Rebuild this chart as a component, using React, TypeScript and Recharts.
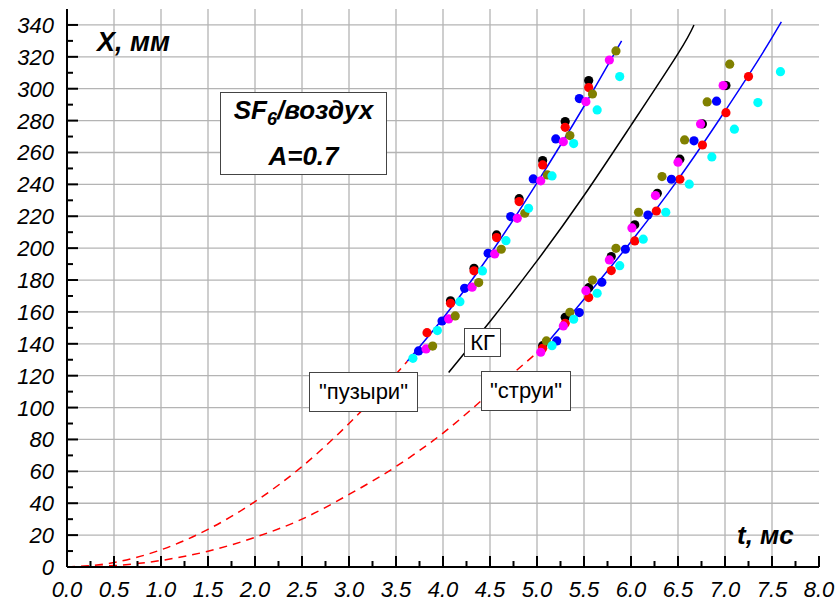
import React from "react";
import { ComposedChart, Scatter, Line, XAxis, YAxis, CartesianGrid } from "recharts";

// axis ticks (minor + major)
const tTicks = [0, 0.25, 0.5, 0.75, 1, 1.25, 1.5, 1.75, 2, 2.25, 2.5, 2.75, 3, 3.25, 3.5, 3.75, 4, 4.25, 4.5, 4.75, 5, 5.25, 5.5, 5.75, 6, 6.25, 6.5, 6.75, 7, 7.25, 7.5, 7.75, 8];
const xTicks = [0, 10, 20, 30, 40, 50, 60, 70, 80, 90, 100, 110, 120, 130, 140, 150, 160, 170, 180, 190, 200, 210, 220, 230, 240, 250, 260, 270, 280, 290, 300, 310, 320, 330, 340];
const tGrid = [0.5, 1, 1.5, 2, 2.5, 3, 3.5, 4, 4.5, 5, 5.5, 6, 6.5, 7, 7.5];
const xGrid = [20, 40, 60, 80, 100, 120, 140, 160, 180, 200, 220, 240, 260, 280, 300, 320, 340];

// measured points: [t, X]
const blackPts = [
  [4.08, 167], [4.33, 187.4], [4.57, 208.3], [4.81, 231], [5.06, 254.9], [5.3, 279.4], [5.55, 305.1],
  [5.06, 138.8], [5.3, 156.6], [5.55, 175.2], [5.79, 194.7], [6.04, 214.6], [6.28, 234.4], [6.52, 255.8], [6.76, 277.9], [7.01, 302],
];
const redPts = [
  [3.83, 147], [4.08, 165.4], [4.33, 185.8], [4.57, 206.6], [4.81, 229.2], [5.06, 252.2], [5.3, 275.8], [5.55, 300.7],
  [5.06, 137.2], [5.3, 152.9], [5.55, 169], [5.79, 185.9], [6.04, 204.5], [6.27, 223.3], [6.52, 243.2], [6.76, 264.7], [7.01, 285], [7.25, 307.6],
];
const bluePts = [
  [3.74, 135.5], [3.99, 154.3], [4.23, 174.8], [4.48, 196.8], [4.72, 219.8], [4.96, 243.4], [5.2, 268.5], [5.45, 293.8],
  [5.21, 141.8], [5.45, 159.6], [5.69, 178.6], [5.94, 199.3], [6.18, 220.8], [6.43, 243.2], [6.67, 267.3], [6.91, 292.2],
];
const magentaPts = [
  [3.82, 136.8], [4.06, 155.6], [4.31, 175.5], [4.55, 196.4], [4.79, 218.7], [5.04, 242.2], [5.28, 266.8], [5.52, 291.9], [5.77, 318],
  [5.04, 134.7], [5.28, 151.2], [5.52, 173.3], [5.77, 192.6], [6.01, 212.7], [6.26, 233], [6.5, 253.9], [6.74, 277.9], [6.98, 302],
];
const olivePts = [
  [3.89, 138.6], [4.13, 157.5], [4.38, 178.4], [4.62, 199.3], [4.87, 221.9], [5.11, 245.9], [5.35, 270.6], [5.59, 296.7], [5.84, 323.7],
  [5.1, 141.8], [5.35, 159.8], [5.59, 180], [5.84, 199.9], [6.08, 222.5], [6.33, 244.9], [6.57, 267.9], [6.81, 291.7], [7.05, 315.4],
];
const cyanPts = [
  [3.68, 130.9], [3.94, 148.3], [4.18, 166.4], [4.42, 185.7], [4.67, 204.7], [4.91, 225], [5.16, 245.3], [5.39, 265.6], [5.64, 286.7], [5.88, 307.6],
  [5.16, 138.8], [5.39, 155.4], [5.64, 171.7], [5.88, 189], [6.13, 205.6], [6.37, 222.5], [6.62, 240.1], [6.86, 257.2], [7.1, 274.6], [7.35, 291.3], [7.59, 310.7],
];

// curves
const bubbleFit = [[3.62, 129], [4.0, 156], [4.5, 196], [5.0, 241], [5.5, 289], [5.9, 330]];
const jetFit = [[5.07, 138], [5.5, 168], [6.0, 204], [6.5, 243], [7.0, 286], [7.5, 332], [7.6, 342]];
const bubbleExtra = [[0, 0], [0.5, 2.8], [1.0, 10.8], [1.5, 23.6], [2.0, 41], [2.5, 63], [3.0, 90], [3.5, 121], [3.62, 129]];
const jetExtra = [[0, 0], [0.5, 0.9], [1.0, 4.1], [1.5, 9.9], [2.0, 18.6], [2.5, 30], [3.0, 45.5], [3.5, 63], [4.0, 84], [4.5, 109], [5.07, 138]];
const kgCurve = [[4.06, 122], [4.5, 154], [5.0, 192], [5.5, 233], [6.0, 277], [6.5, 322], [6.67, 340]];

const toRows = (pts: number[][]) => pts.map(([t, v]) => ({ t, v }));

const font = "'Liberation Sans', Arial, sans-serif";

const makeTick = (side: string) => (props: any) => {
  const { x, y, payload } = props;
  const val = payload.value;
  const isX = side === "bottom" || side === "top";
  const major = isX ? Math.abs(val * 2 - Math.round(val * 2)) < 1e-6 : val % 20 === 0;
  const len = major ? 11 : 6;
  let line;
  if (side === "bottom") line = <line x1={x} y1={y} x2={x} y2={y - len} stroke="#000" strokeWidth={2} />;
  else if (side === "top") line = <line x1={x} y1={y} x2={x} y2={y + len} stroke="#000" strokeWidth={2} />;
  else if (side === "left") line = <line x1={x} y1={y} x2={x + len} y2={y} stroke="#000" strokeWidth={2} />;
  else line = <line x1={x} y1={y} x2={x - len} y2={y} stroke="#000" strokeWidth={2} />;
  let label = null;
  if (major && side === "bottom")
    label = (
      <text x={x} y={y + 30} textAnchor="middle" fontFamily={font} fontStyle="italic" fontSize={22} fill="#000">
        {val.toFixed(1)}
      </text>
    );
  if (major && side === "left")
    label = (
      <text x={x - 13} y={y + 8} textAnchor="end" fontFamily={font} fontStyle="italic" fontSize={22} fill="#000">
        {val}
      </text>
    );
  return (
    <g>
      {line}
      {label}
    </g>
  );
};

const dot = (color: string) => (p: any) => <circle cx={p.cx} cy={p.cy} r={4.6} fill={color} />;

const boxStyle: React.CSSProperties = {
  position: "absolute",
  background: "#fff",
  border: "1px solid #444",
  boxSizing: "border-box",
  display: "flex",
  alignItems: "center",
  justifyContent: "center",
  fontFamily: font,
  color: "#000",
};

export default function App() {
  const scatters: [number[][], string][] = [
    [blackPts, "#000000"],
    [redPts, "#ff0000"],
    [bluePts, "#0000ff"],
    [magentaPts, "#ff00ff"],
    [olivePts, "#808000"],
    [cyanPts, "#00ffff"],
  ];
  return (
    <div style={{ position: "relative", width: 837, height: 601, background: "#fff" }}>
      <style>{`body{margin:0}`}</style>
      <ComposedChart width={837} height={601} margin={{ top: 9, right: 18, bottom: 4, left: 7 }}>
        <CartesianGrid stroke="#b4b4b4" strokeWidth={1.3} horizontalValues={xGrid} verticalValues={tGrid} />
        <XAxis
          type="number"
          dataKey="t"
          domain={[0, 8]}
          ticks={tTicks}
          interval={0}
          height={30}
          tickSize={0}
          tickMargin={0}
          tickLine={false}
          axisLine={{ stroke: "#000", strokeWidth: 2 }}
          tick={makeTick("bottom")}
        />
        <XAxis
          xAxisId="top"
          orientation="top"
          type="number"
          dataKey="t"
          domain={[0, 8]}
          ticks={tTicks}
          interval={0}
          height={0}
          tickSize={0}
          tickMargin={0}
          tickLine={false}
          axisLine={{ stroke: "#000", strokeWidth: 2 }}
          tick={makeTick("top")}
        />
        <YAxis
          type="number"
          domain={[0, 350]}
          ticks={xTicks}
          interval={0}
          width={60}
          tickSize={0}
          tickMargin={0}
          tickLine={false}
          axisLine={{ stroke: "#000", strokeWidth: 2 }}
          tick={makeTick("left")}
        />
        <YAxis
          yAxisId="right"
          orientation="right"
          type="number"
          domain={[0, 350]}
          ticks={xTicks}
          interval={0}
          width={0}
          tickSize={0}
          tickMargin={0}
          tickLine={false}
          axisLine={{ stroke: "#000", strokeWidth: 2 }}
          tick={makeTick("right")}
        />
        <Line data={toRows(bubbleExtra)} dataKey="v" type="monotone" stroke="#ff0000" strokeWidth={1.5} strokeDasharray="8 6" dot={false} isAnimationActive={false} />
        <Line data={toRows(jetExtra)} dataKey="v" type="monotone" stroke="#ff0000" strokeWidth={1.5} strokeDasharray="8 6" dot={false} isAnimationActive={false} />
        <Line data={toRows(kgCurve)} dataKey="v" type="natural" stroke="#000" strokeWidth={1.5} dot={false} isAnimationActive={false} />
        {scatters.map(([pts, c], i) => (
          <Scatter key={i} data={toRows(pts)} dataKey="v" shape={dot(c)} isAnimationActive={false} />
        ))}
        <Line data={toRows(bubbleFit)} dataKey="v" type="monotone" stroke="#0000ff" strokeWidth={1.5} dot={false} isAnimationActive={false} />
        <Line data={toRows(jetFit)} dataKey="v" type="monotone" stroke="#0000ff" strokeWidth={1.5} dot={false} isAnimationActive={false} />
      </ComposedChart>

      <div style={{ position: "absolute", left: 97, top: 27, fontFamily: font, fontStyle: "italic", fontWeight: "bold", fontSize: 27 }}>
        X, мм
      </div>
      <div style={{ position: "absolute", left: 737, top: 520, fontFamily: font, fontStyle: "italic", fontWeight: "bold", fontSize: 26 }}>
        t, мс
      </div>

      <div style={{ ...boxStyle, left: 220, top: 92, width: 167, height: 83, flexDirection: "column", fontStyle: "italic", fontWeight: "bold", fontSize: 26, lineHeight: "37px" }}>
        <div>
          SF<sub style={{ fontSize: 18, verticalAlign: -6 }}>6</sub>/воздух
        </div>
        <div>A=0.7</div>
      </div>
      <div style={{ ...boxStyle, left: 309, top: 372, width: 109, height: 40, fontSize: 22 }}>"пузыри"</div>
      <div style={{ ...boxStyle, left: 481, top: 371, width: 90, height: 40, fontSize: 22 }}>"струи"</div>
      <div style={{ ...boxStyle, left: 464, top: 328, width: 37, height: 29, fontSize: 22 }}>КГ</div>
    </div>
  );
}
